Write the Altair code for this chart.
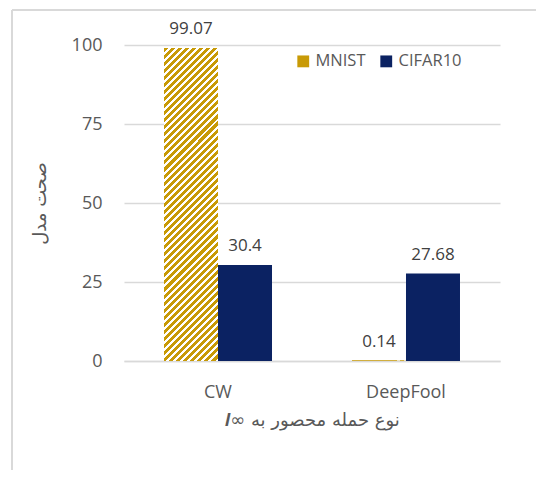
import altair as alt
import pandas as pd

attacks = ["CW", "DeepFool"]
series = ["MNIST", "CIFAR10"]
mnist_acc = [99.07, 0.14]
cifar_acc = [30.4, 27.68]
y_ticks = [0, 25, 50, 75, 100]

rows = []
for i, a in enumerate(attacks):
    rows.append({"attack": a, "series": "MNIST", "acc": mnist_acc[i], "label": f"{mnist_acc[i]:g}"})
    rows.append({"attack": a, "series": "CIFAR10", "acc": cifar_acc[i], "label": f"{cifar_acc[i]:g}"})
df = pd.DataFrame(rows)

GOLD = "#C89A06"
NAVY = "#0B2262"
GRID = "#D9D9D9"
TXT = "#595959"
LATIN = "Open Sans"
ARABIC = "DejaVu Sans"

# diagonal hatch built as a striped linear gradient (style only)
W, H = 54.0, 313.0
k = (W + H) / (W * W + H * H)
n = int((W + H) / 7.0)
stops = []
for i in range(n):
    s0 = i / n
    s1 = (i + 0.58) / n
    s2 = (i + 1) / n
    stops += [
        alt.GradientStop(offset=s0, color=GOLD),
        alt.GradientStop(offset=s1, color=GOLD),
        alt.GradientStop(offset=s1, color="#FFFFFF"),
        alt.GradientStop(offset=s2, color="#FFFFFF"),
    ]
hatch = alt.LinearGradient(gradient="linear", x1=0, y1=0, x2=W * k, y2=H * k, stops=stops)

x_enc = alt.X(
    "attack:N",
    sort=attacks,
    scale=alt.Scale(paddingInner=0.4255, paddingOuter=0.2128),
    axis=alt.Axis(
        title="𝒍∞  نوع حمله محصور به",
        titleFont=ARABIC,
        titleFontSize=18,
        titleFontWeight="normal",
        titleColor=TXT,
        titlePadding=10,
        labelFont=LATIN,
        labelFontSize=18,
        labelColor=TXT,
        labelPadding=22,
        labelAngle=0,
        ticks=False,
        domainColor=GRID,
        domainWidth=1.5,
        grid=False,
    ),
)
xo_enc = alt.XOffset("series:N", sort=series, scale=alt.Scale(domain=series))
y_enc = alt.Y(
    "acc:Q",
    scale=alt.Scale(domain=[0, 100]),
    axis=alt.Axis(
        values=y_ticks,
        title="صحت مدل",
        titleFont=ARABIC,
        titleFontSize=18,
        titleFontWeight="normal",
        titleColor=TXT,
        titleX=-84,
        titleY=158,
        titleAlign="center",
        titleBaseline="middle",
        labelFont=LATIN,
        labelFontSize=18,
        labelColor=TXT,
        labelPadding=22,
        ticks=False,
        domain=False,
        grid=True,
        gridColor=GRID,
        gridWidth=1.5,
    ),
)

base = alt.Chart(df)

bars = base.mark_bar().encode(
    x=x_enc,
    xOffset=xo_enc,
    y=y_enc,
    color=alt.Color(
        "series:N",
        scale=alt.Scale(domain=series, range=[GOLD, NAVY]),
        legend=alt.Legend(
            title=None,
            orient="none",
            legendX=171,
            legendY=8,
            direction="horizontal",
            symbolType="square",
            symbolSize=140,
            symbolStrokeWidth=0,
            labelFont=LATIN,
            labelFontSize=16.5,
            labelColor=TXT,
            labelOffset=4,
            columnPadding=12,
        ),
    ),
)

hatched = base.transform_filter(alt.datum.series == "MNIST").mark_bar(fill=hatch).encode(
    x=x_enc, xOffset=xo_enc, y=y_enc
)

labels = base.mark_text(
    baseline="alphabetic", dy=-14, fontSize=17, font=LATIN, color="#404040"
).encode(x=x_enc, xOffset=xo_enc, y=y_enc, text="label:N")

frame_left = alt.Chart(df).mark_rule(color=GRID, strokeWidth=1.5).encode(
    x=alt.value(-112), y=alt.value(-35), y2=alt.value(425)
)
frame_top = alt.Chart(df).mark_rule(color=GRID, strokeWidth=1.5).encode(
    x=alt.value(-112), x2=alt.value(412), y=alt.value(-35)
)

chart = (
    alt.layer(frame_left, frame_top, bars, hatched, labels)
    .properties(
        width=376,
        height=316,
        autosize=alt.AutoSizeParams(type="none"),
        padding={"left": 116, "top": 37, "right": 36, "bottom": 117},
    )
    .configure_view(stroke=None)
)

chart.save("out.html", embed_options={"renderer": "svg", "actions": False})
